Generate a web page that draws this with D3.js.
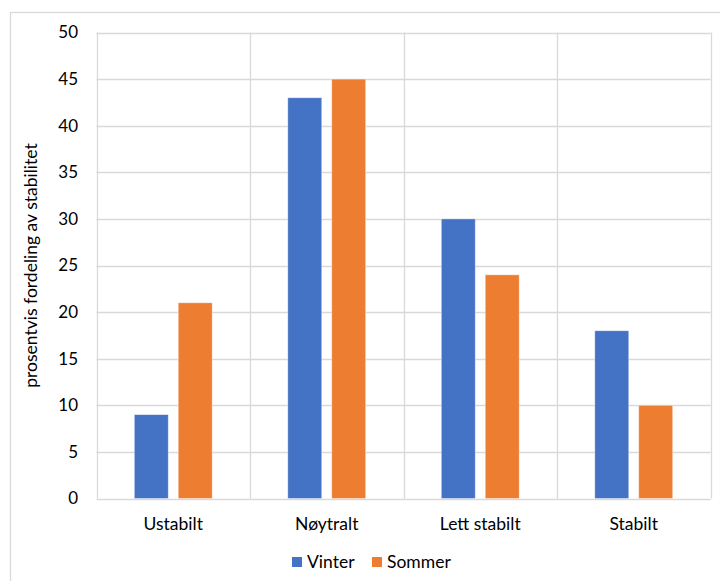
<!DOCTYPE html>
<html>
<head>
<meta charset="utf-8">
<script src="https://cdn.jsdelivr.net/npm/d3@7"></script>
<style>
  html, body { margin: 0; padding: 0; background: #fff; }
  svg { display: block; }
</style>
</head>
<body>
<svg id="chart" width="720" height="581"></svg>
<script>
// Stability distribution by season (percent)
const categories = ["Ustabilt", "Nøytralt", "Lett stabilt", "Stabilt"];
const seriesNames = ["Vinter", "Sommer"];
const vinter = [9, 43, 30, 18];
const sommer = [21, 45, 24, 10];
const yTicks = [0, 5, 10, 15, 20, 25, 30, 35, 40, 45, 50];
const yTitle = "prosentvis fordeling av stabilitet";

const colors = { Vinter: "#4472C4", Sommer: "#ED7D31" };
const gridColor = "#d9d9d9";
const font = "Lato, 'Open Sans', sans-serif";
const fontSize = 17.5;

const svg = d3.select("#chart");
const W = 720, H = 581;
const margin = { left: 96.5, right: 9.5, top: 32.5, bottom: 82.5 };

// outer chart frame
svg.append("rect")
  .attr("x", 10.5).attr("y", 12.5)
  .attr("width", 720).attr("height", 580)
  .attr("fill", "none").attr("stroke", gridColor).attr("stroke-width", 1.3);

const x = d3.scaleBand().domain(categories)
  .range([margin.left, W - margin.right]).paddingInner(0).paddingOuter(0);
const xSeries = d3.scaleBand().domain(seriesNames)
  .range([0, x.bandwidth()]).paddingInner(0.227).paddingOuter(0.86);
const y = d3.scaleLinear().domain([0, 50]).range([H - margin.bottom, margin.top]);

// horizontal gridlines
svg.append("g").selectAll("line").data(yTicks).join("line")
  .attr("x1", margin.left).attr("x2", W - margin.right)
  .attr("y1", d => Math.round(y(d)) + 0.5).attr("y2", d => Math.round(y(d)) + 0.5)
  .attr("stroke", gridColor).attr("stroke-width", 1.3);

// vertical category separators
const seps = categories.map(c => x(c)).concat([x.range()[1]]);
svg.append("g").selectAll("line").data(seps).join("line")
  .attr("x1", d => Math.round(d) + 0.5).attr("x2", d => Math.round(d) + 0.5)
  .attr("y1", y(50)).attr("y2", y(0))
  .attr("stroke", gridColor).attr("stroke-width", 1.3);

// bars
const rows = categories.map((c, i) => ({ cat: c, Vinter: vinter[i], Sommer: sommer[i] }));
const groups = svg.append("g").selectAll("g").data(rows).join("g")
  .attr("transform", d => `translate(${x(d.cat)},0)`);
groups.selectAll("rect")
  .data(d => seriesNames.map(s => ({ s, v: d[s] })))
  .join("rect")
  .attr("x", d => xSeries(d.s))
  .attr("width", xSeries.bandwidth())
  .attr("y", d => y(d.v))
  .attr("height", d => y(0) - y(d.v))
  .attr("fill", d => colors[d.s])
  .attr("stroke", "#fff").attr("stroke-opacity", 0.5).attr("stroke-width", 0.8);

// y axis tick labels
svg.append("g").selectAll("text").data(yTicks).join("text")
  .attr("x", 78).attr("y", d => y(d))
  .attr("dy", "0.35em")
  .attr("text-anchor", "end")
  .attr("font-family", font).attr("font-size", 17).attr("fill", "#000")
  .text(d => d);

// category labels
svg.append("g").selectAll("text").data(categories).join("text")
  .attr("x", d => x(d) + x.bandwidth() / 2).attr("y", 530)
  .attr("text-anchor", "middle")
  .attr("font-family", font).attr("font-size", fontSize).attr("fill", "#000")
  .text(d => d);

// y axis title
svg.append("text")
  .attr("transform", `translate(37, ${(y(0) + y(50)) / 2}) rotate(-90)`)
  .attr("text-anchor", "middle")
  .attr("font-family", font).attr("font-size", fontSize).attr("fill", "#000")
  .text(yTitle);

// legend
const legend = svg.append("g");
const legendItems = [{ s: "Vinter", x: 292 }, { s: "Sommer", x: 372 }];
legendItems.forEach(it => {
  legend.append("rect").attr("x", it.x).attr("y", 557).attr("width", 10).attr("height", 10)
    .attr("fill", colors[it.s]);
  legend.append("text").attr("x", it.x + 15).attr("y", 568)
    .attr("font-family", font).attr("font-size", fontSize).attr("fill", "#000")
    .text(it.s);
});
</script>
</body>
</html>
